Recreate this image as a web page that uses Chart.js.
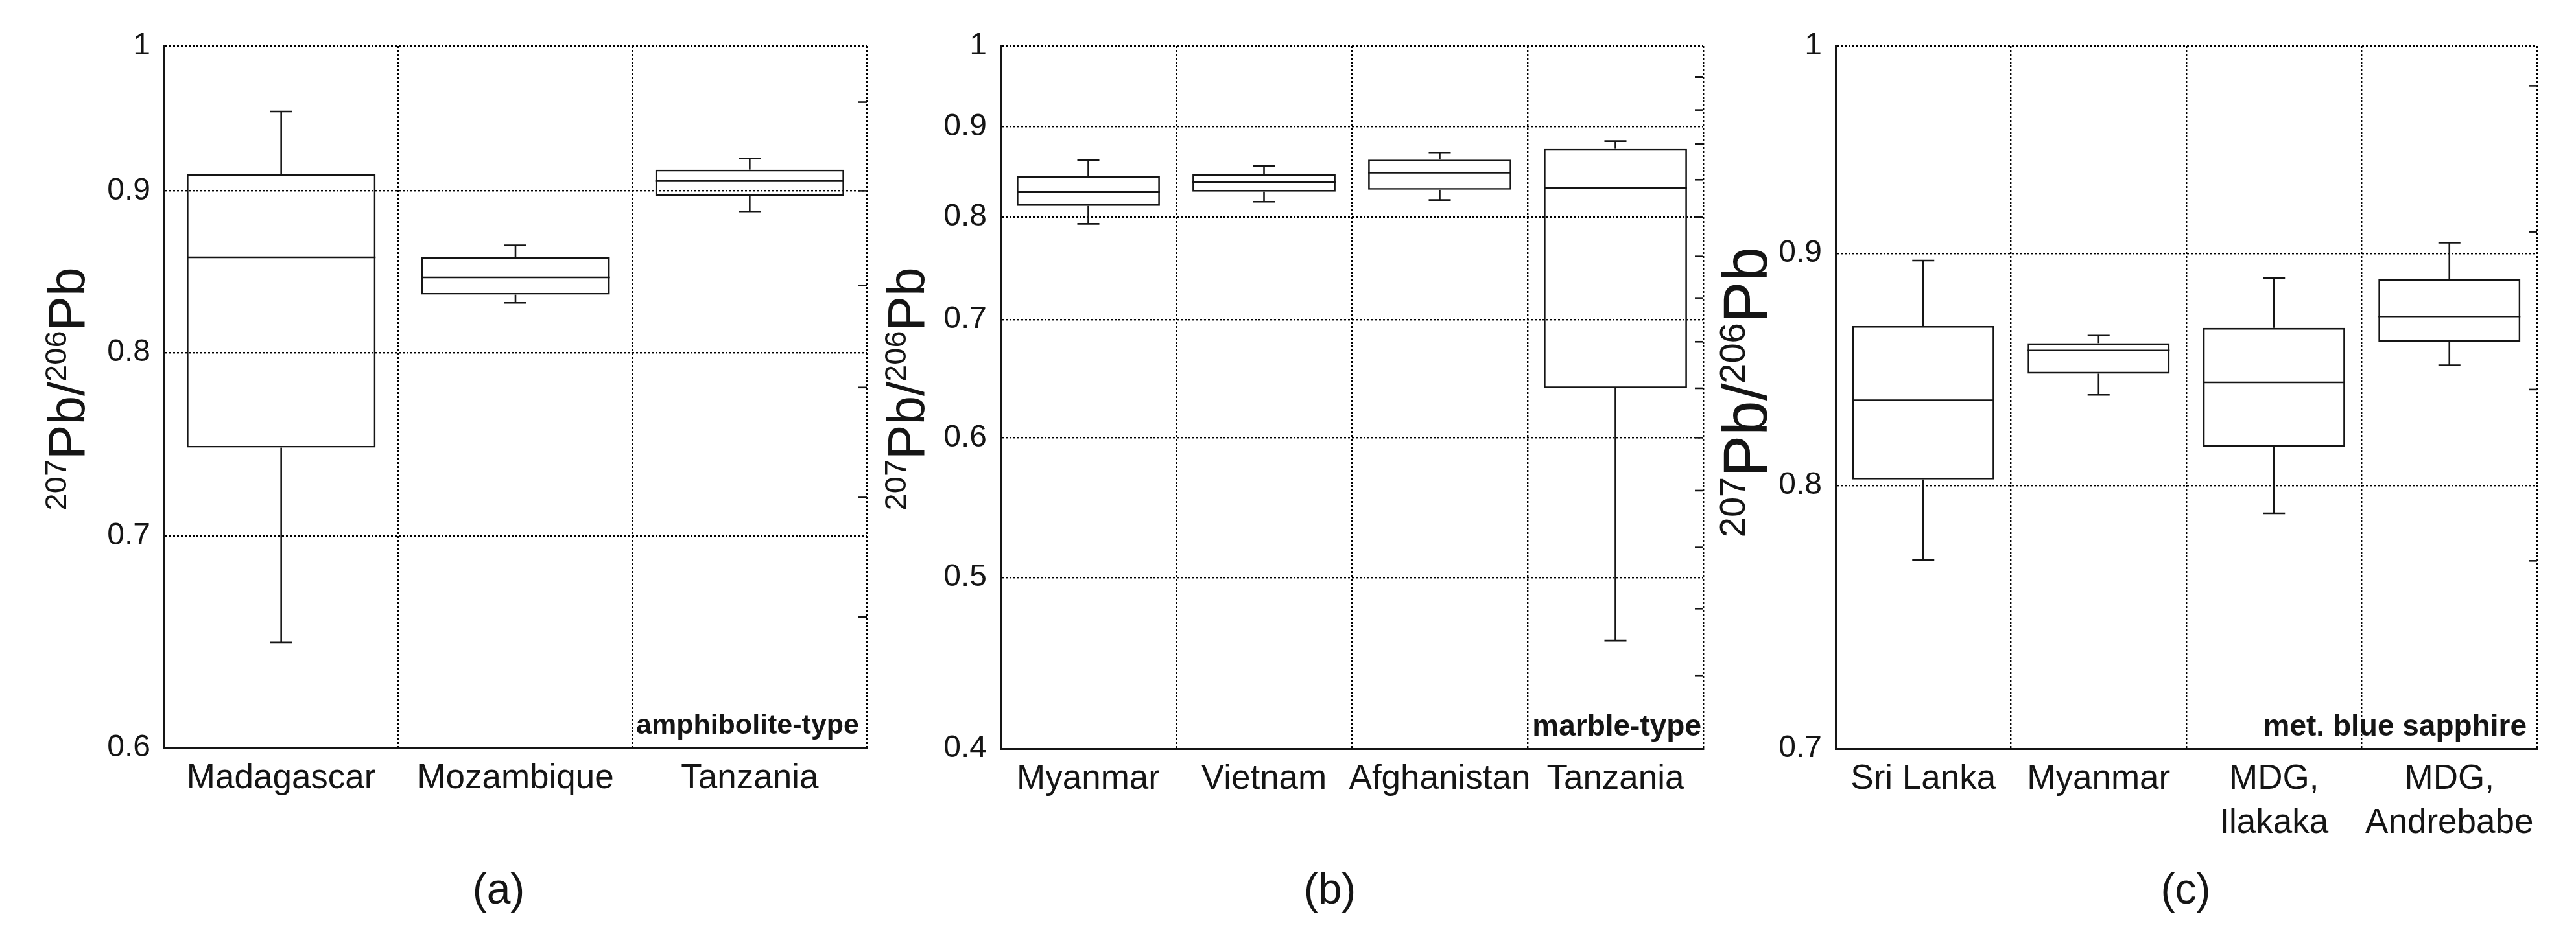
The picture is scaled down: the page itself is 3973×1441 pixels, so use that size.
<!DOCTYPE html>
<html><head><meta charset="utf-8">
<script src="https://cdn.jsdelivr.net/npm/chart.js@4.4.1/dist/chart.umd.min.js"></script>
<style>
html,body{margin:0;padding:0;background:#fff;}
#wrap{position:relative;width:3973px;height:1441px;overflow:hidden;background:#fff}
canvas{position:absolute;top:0}
</style></head><body>
<div id="wrap">
<canvas id="ca" width="1345" height="1441" style="left:0px"></canvas>
<canvas id="cb" width="1295" height="1441" style="left:1345px"></canvas>
<canvas id="cc" width="1373" height="1441" style="left:2600px"></canvas>
</div>
<script>
// ---------- DATA ----------
// (a) amphibolite-type
const CAT_A = ['Madagascar', 'Mozambique', 'Tanzania'];
const MIN_A = [0.648, 0.8295, 0.8866];
const Q1_A  = [0.7466, 0.8345, 0.8966];
const MED_A = [0.8575, 0.845, 0.9064];
const Q3_A  = [0.911, 0.8575, 0.914];
const MAX_A = [0.9535, 0.865, 0.9214];
const YTICKS_A = [0.6, 0.7, 0.8, 0.9, 1];
const RTICKS_A = [0.66, 0.72, 0.78, 0.84, 0.90, 0.96];

// (b) marble-type
const CAT_B = ['Myanmar', 'Vietnam', 'Afghanistan', 'Tanzania'];
const MIN_B = [0.793, 0.8162, 0.818, 0.4606];
const Q1_B  = [0.8118, 0.827, 0.829, 0.64];
const MED_B = [0.827, 0.8373, 0.8478, 0.8309];
const Q3_B  = [0.8438, 0.8458, 0.8624, 0.8745];
const MAX_B = [0.862, 0.855, 0.8704, 0.8834];
const YTICKS_B = [0.4, 0.5, 0.6, 0.7, 0.8, 0.9, 1];
const RTICKS_B = [0.44, 0.48, 0.52, 0.56, 0.60, 0.64, 0.68, 0.72, 0.76, 0.80, 0.84, 0.88, 0.92, 0.96];

// (c) met. blue sapphire
const CAT_C = ['Sri Lanka', 'Myanmar', ['MDG,', 'Ilakaka'], ['MDG,', 'Andrebabe']];
const MIN_C = [0.7703, 0.8377, 0.7888, 0.8504];
const Q1_C  = [0.8025, 0.8468, 0.816, 0.8607];
const MED_C = [0.8354, 0.8568, 0.843, 0.8717];
const Q3_C  = [0.8675, 0.86, 0.8667, 0.8884];
const MAX_C = [0.8968, 0.8633, 0.889, 0.905];
const YTICKS_C = [0.7, 0.8, 0.9, 1];
const RTICKS_C = [0.77, 0.84, 0.91, 0.98];

const TYPE_LABELS = ['amphibolite-type', 'marble-type', 'met. blue sapphire'];
const PANEL_LABELS = ['(a)', '(b)', '(c)'];

// ---------- RENDER ----------
const FONT = '"Liberation Sans", Arial, Helvetica, sans-serif';
const INK = '#151515';

function drawYTitle(ctx, xBase, yCenter, F, f, raise) {
  const segs = [['207', true], ['Pb/', false], ['206', true], ['Pb', false]];
  const big = F + 'px ' + FONT, sm = f + 'px ' + FONT;
  let total = 0;
  const ws = segs.map(([t, sup]) => { ctx.font = sup ? sm : big; const w = ctx.measureText(t).width; total += w; return w; });
  ctx.save();
  ctx.translate(xBase, yCenter);
  ctx.rotate(-Math.PI / 2);
  ctx.fillStyle = INK;
  ctx.textAlign = 'left';
  ctx.textBaseline = 'alphabetic';
  let x = -total / 2;
  segs.forEach(([t, sup], i) => {
    ctx.font = sup ? sm : big;
    ctx.fillText(t, x, sup ? -raise : 0);
    x += ws[i];
  });
  ctx.restore();
}

function makePanel(id, p) {
  const floating = p.q1.map((v, i) => [v, p.q3[i]]);
  const extras = {
    id: 'extras_' + id,
    afterDatasetsDraw(chart) {
      const ctx = chart.ctx, ys = chart.scales.y, meta = chart.getDatasetMeta(0);
      ctx.save();
      ctx.strokeStyle = INK; ctx.lineWidth = 2.6; ctx.lineCap = 'butt';
      const line = (x1, y1, x2, y2) => { ctx.beginPath(); ctx.moveTo(x1, y1); ctx.lineTo(x2, y2); ctx.stroke(); };
      meta.data.forEach((bar, i) => {
        const x = bar.x, hw = bar.width / 2, cap = 17;
        const pMed = ys.getPixelForValue(p.med[i]);
        const pMin = ys.getPixelForValue(p.min[i]);
        const pMax = ys.getPixelForValue(p.max[i]);
        const pQ1 = ys.getPixelForValue(p.q1[i]);
        const pQ3 = ys.getPixelForValue(p.q3[i]);
        line(x - hw, pMed, x + hw, pMed);
        line(x, pQ3, x, pMax); line(x - cap, pMax, x + cap, pMax);
        line(x, pQ1, x, pMin); line(x - cap, pMin, x + cap, pMin);
      });
      // right-side inward ticks
      const ca = chart.chartArea;
      p.rticks.forEach(v => { const yy = ys.getPixelForValue(v); line(ca.right - 13, yy, ca.right, yy); });
      // type annotation
      ctx.fillStyle = INK;
      ctx.font = 'bold ' + p.annFont + 'px ' + FONT;
      ctx.textAlign = 'right'; ctx.textBaseline = 'alphabetic';
      ctx.fillText(p.ann, ca.right - p.annRight, ca.bottom - p.annBottom);
      ctx.restore();
    },
    afterDraw(chart) {
      const ctx = chart.ctx;
      drawYTitle(ctx, p.titleX - p.left, p.titleY, p.titleF, p.titleSup, p.titleRaise);
      ctx.save();
      ctx.fillStyle = INK;
      ctx.font = '66px ' + FONT;
      ctx.textAlign = 'center'; ctx.textBaseline = 'middle';
      ctx.fillText(p.panel, p.panelX - p.left, 1376);
      ctx.restore();
    }
  };
  return new Chart(document.getElementById(id), {
    type: 'bar',
    data: {
      labels: p.cats,
      datasets: [{
        data: floating,
        backgroundColor: 'rgba(0,0,0,0)',
        borderColor: INK,
        borderWidth: 2.6,
        borderSkipped: false,
        barPercentage: p.barPct,
        categoryPercentage: 1
      }]
    },
    options: {
      responsive: false,
      animation: false,
      devicePixelRatio: 1,
      layout: { padding: { top: 71, right: p.padRight, bottom: 0, left: 0 } },
      plugins: { legend: { display: false }, tooltip: { enabled: false }, title: { display: false } },
      scales: {
        x: {
          type: 'category',
          offset: true,
          grid: { offset: true, color: '#000', lineWidth: 2.4, drawTicks: false },
          border: { display: true, color: INK, width: 3, dash: [3, 3] },
          ticks: { color: INK, font: { family: FONT, size: 53, lineHeight: 1.27 }, padding: 14,
                   maxRotation: 0, minRotation: 0, autoSkip: false },
          afterFit: s => { s.height = p.xH; }
        },
        y: {
          type: 'logarithmic',
          min: p.yMin, max: 1,
          afterBuildTicks: s => { s.ticks = p.yticks.map(v => ({ value: v, major: true })); },
          grid: { color: '#000', lineWidth: 2.4, drawTicks: false },
          border: { display: true, color: INK, width: 3, dash: [3, 3] },
          ticks: { color: INK, font: { family: FONT, size: 48 }, padding: 21, callback: v => String(v) },
          afterFit: s => { s.width = p.yW; }
        }
      }
    },
    plugins: [extras]
  });
}

makePanel('ca', {
  cats: CAT_A, min: MIN_A, q1: Q1_A, med: MED_A, q3: Q3_A, max: MAX_A,
  yticks: YTICKS_A, rticks: RTICKS_A, yMin: 0.6, barPct: 0.806,
  left: 0, yW: 253, padRight: 8, xH: 287,
  ann: TYPE_LABELS[0], annFont: 43, annRight: 12, annBottom: 22,
  titleX: 130, titleY: 600, titleF: 80, titleSup: 47, titleRaise: 28,
  panel: PANEL_LABELS[0], panelX: 769
});
makePanel('cb', {
  cats: CAT_B, min: MIN_B, q1: Q1_B, med: MED_B, q3: Q3_B, max: MAX_B,
  yticks: YTICKS_B, rticks: RTICKS_B, yMin: 0.4, barPct: 0.815,
  left: 1345, yW: 198, padRight: 13, xH: 286,
  ann: TYPE_LABELS[1], annFont: 46, annRight: 3, annBottom: 20,
  titleX: 1425, titleY: 600, titleF: 80, titleSup: 47, titleRaise: 28,
  panel: PANEL_LABELS[1], panelX: 2051
});
makePanel('cc', {
  cats: CAT_C, min: MIN_C, q1: Q1_C, med: MED_C, q3: Q3_C, max: MAX_C,
  yticks: YTICKS_C, rticks: RTICKS_C, yMin: 0.7, barPct: 0.81,
  left: 2600, yW: 231, padRight: 60, xH: 286,
  ann: TYPE_LABELS[2], annFont: 46, annRight: 16, annBottom: 20,
  titleX: 2725, titleY: 605, titleF: 96, titleSup: 56, titleRaise: 34,
  panel: PANEL_LABELS[2], panelX: 3371
});
</script>
</body></html>
